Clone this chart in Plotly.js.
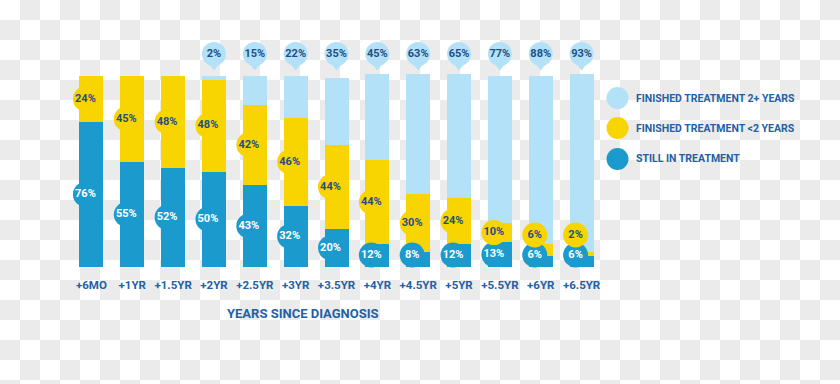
<!DOCTYPE html>
<html>
<head>
<meta charset="utf-8">
<script src="https://cdn.plot.ly/plotly-3.0.1.min.js"></script>
<style>
html,body{margin:0;padding:0;}
body{width:840px;height:384px;background-color:#fff;
background-image:conic-gradient(#ebebeb 0 25%, #fff 0 50%, #ebebeb 0 75%, #fff 0);
background-size:40px 40px;}
#chart{width:840px;height:384px;}
</style>
</head>
<body>
<div id="chart"></div>
<script>
// ---- data ----
const categories = ["+6MO","+1YR","+1.5YR","+2YR","+2.5YR","+3YR","+3.5YR","+4YR","+4.5YR","+5YR","+5.5YR","+6YR","+6.5YR"];
const stillInTreatment = [76,55,52,50,43,32,20,12,8,12,13,6,6];
const finishedUnder2 = [24,45,48,48,42,46,44,44,30,24,10,6,2];
const finished2Plus = [0,0,0,2,15,22,35,45,63,65,77,88,93];
const seriesNames = ["FINISHED TREATMENT 2+ YEARS","FINISHED TREATMENT <2 YEARS","STILL IN TREATMENT"];
const axisTitle = "YEARS SINCE DIAGNOSIS";

// ---- style ----
const cLight = "#b3e1f7", cYellow = "#f8d400", cBlue = "#1b9bcd";
const cNavy = "#1f4f88", cTick = "#2360a5";
const FONT = "Roboto, 'Liberation Sans Narrow', sans-serif";

const W = 840, H = 384;
const mL = 71, mR = 238, mB = 117, plotTopPx = 28;
const plotH = H - mB - plotTopPx;          // px
const pxPerUnit = (H - mB - 76) / 100;      // 100% -> 191px
const yMax = plotH / pxPerUnit;
const plotW = W - mL - mR;
const pxPerCat = plotW / categories.length;
const barW = 24 / pxPerCat;
const labelDx = -6 / pxPerCat;

const idx = categories.map((_, i) => i);
const yFromPx = px => (H - mB - px) / pxPerUnit;   // data units
const pxToPaperX = px => (px - mL) / plotW;
const pxToPaperY = px => (H - mB - px) / plotH;

// label placement with minimum spacing so small segments stay readable
const minBlue = 12 / pxPerUnit, minGap = 20 / pxPerUnit;
const blueLabelY = stillInTreatment.map(v => Math.max(v / 2, minBlue));
const yellowLabelY = finishedUnder2.map((v, i) => Math.max(stillInTreatment[i] + v / 2, blueLabelY[i] + minGap));

const traces = [];
traces.push({type:"bar", x:idx, y:stillInTreatment, width:barW, marker:{color:cBlue}, name:seriesNames[2], hoverinfo:"skip"});
traces.push({type:"bar", x:idx, y:finishedUnder2, width:barW, marker:{color:cYellow}, name:seriesNames[1], hoverinfo:"skip"});
traces.push({type:"bar", x:idx, y:finished2Plus, width:barW, marker:{color:cLight}, name:seriesNames[0], hoverinfo:"skip"});

traces.push({type:"scatter", mode:"markers+text", x:idx.map(i=>i+labelDx),
  y:blueLabelY, text:stillInTreatment.map(v=>v+"%"),
  textposition:"middle center", textfont:{family:FONT, size:11, color:"#ffffff", weight:"bold"},
  marker:{size:25, color:cBlue}, cliponaxis:false, hoverinfo:"skip"});
traces.push({type:"scatter", mode:"markers+text", x:idx.map(i=>i+labelDx),
  y:yellowLabelY, text:finishedUnder2.map(v=>v+"%"),
  textposition:"middle center", textfont:{family:FONT, size:11, color:cNavy, weight:"bold"},
  marker:{size:25, color:cYellow}, cliponaxis:false, hoverinfo:"skip"});
const pinIdx = idx.filter(i => finished2Plus[i] > 0);
traces.push({type:"scatter", mode:"markers", x:pinIdx, y:pinIdx.map(()=>yFromPx(65)),
  marker:{symbol:"triangle-down", size:11, color:cLight}, cliponaxis:false, hoverinfo:"skip"});
traces.push({type:"scatter", mode:"markers+text", x:pinIdx, y:pinIdx.map(()=>yFromPx(54)),
  text:pinIdx.map(i=>finished2Plus[i]+"%"), textposition:"middle center",
  textfont:{family:FONT, size:11, color:cNavy, weight:"bold"},
  marker:{size:24, color:cLight}, cliponaxis:false, hoverinfo:"skip"});

const legendColors = [cLight, cYellow, cBlue];
const legendY = [98, 128, 159];
const shapes = [], annotations = [];
legendColors.forEach((c, k) => {
  shapes.push({type:"circle", xref:"paper", yref:"paper", xsizemode:"pixel", ysizemode:"pixel",
    xanchor:pxToPaperX(617.5), yanchor:pxToPaperY(legendY[k]), x0:-11, x1:11, y0:-11, y1:11,
    fillcolor:c, line:{width:0}});
  annotations.push({xref:"paper", yref:"paper", x:pxToPaperX(634), y:pxToPaperY(legendY[k]),
    xanchor:"left", yanchor:"middle", showarrow:false, text:seriesNames[k],
    font:{family:FONT, size:10.5, color:cTick, weight:"bold"}});
});
annotations.push({xref:"paper", yref:"paper", x:pxToPaperX(302), y:pxToPaperY(313),
  xanchor:"center", yanchor:"middle", showarrow:false, text:axisTitle,
  font:{family:FONT, size:13, color:cTick, weight:"bold"}});

const layout = {
  width:W, height:H,
  margin:{l:mL, r:mR, t:plotTopPx, b:mB, pad:0},
  paper_bgcolor:"rgba(0,0,0,0)", plot_bgcolor:"rgba(0,0,0,0)",
  barmode:"stack", showlegend:false,
  xaxis:{range:[-0.5, categories.length-0.5], tickmode:"array", tickvals:idx, ticktext:categories,
    showgrid:false, zeroline:false, showline:false, ticks:"", ticklen:0, tickangle:0, automargin:false,
    ticklabelstandoff:9,
    tickfont:{family:FONT, size:11.5, color:cTick, weight:"bold"}, fixedrange:true},
  yaxis:{range:[0, yMax], visible:false, fixedrange:true},
  shapes:shapes, annotations:annotations,
  font:{family:FONT}
};
Plotly.newPlot("chart", traces, layout, {displayModeBar:false, staticPlot:true});
</script>
</body>
</html>
